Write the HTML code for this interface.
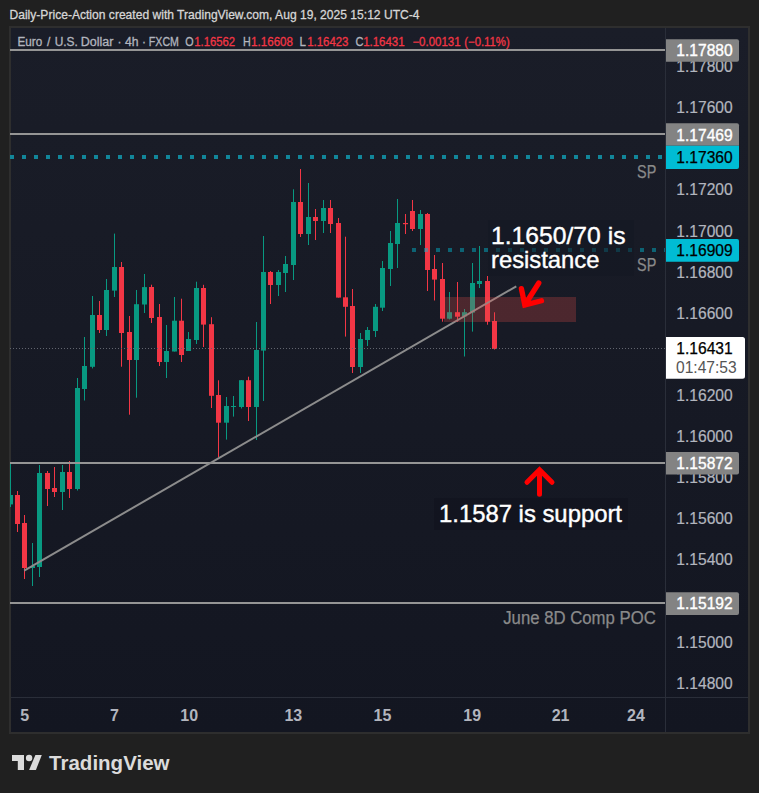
<!DOCTYPE html>
<html><head><meta charset="utf-8"><style>
html,body{margin:0;padding:0;background:#202020;width:759px;height:793px;overflow:hidden}
svg{position:absolute;left:0;top:0}
text{font-family:"Liberation Sans",sans-serif}
</style></head><body>
<svg width="759" height="793" viewBox="0 0 759 793">
<defs><linearGradient id="bgg" gradientUnits="userSpaceOnUse" x1="0" y1="28" x2="0" y2="732"><stop offset="0" stop-color="#1a1d28"/><stop offset="1" stop-color="#131621"/></linearGradient><clipPath id="pane"><rect x="10" y="28" width="655" height="669"/></clipPath></defs>
<!-- header -->
<text x="9.5" y="19" font-size="12.5" fill="#d6d6d6" stroke="#d6d6d6" stroke-width="0.3" textLength="410" lengthAdjust="spacingAndGlyphs">Daily-Price-Action created with TradingView.com, Aug 19, 2025 15:12 UTC-4</text>
<!-- frame -->
<rect x="9" y="26" width="741" height="708" fill="#2e2e2e"/>
<rect x="11" y="28" width="737" height="704" fill="url(#bgg)"/>
<rect x="665" y="28" width="1" height="704" fill="#2a2e39"/>
<rect x="11" y="697" width="737" height="1" fill="#2a2e39"/>
<g clip-path="url(#pane)">
<rect x="10" y="463.0" width="1" height="44.0" fill="#089981"/>
<rect x="8" y="495.0" width="5" height="9.4" fill="#089981"/>
<rect x="17" y="491.0" width="1" height="41.0" fill="#f23645"/>
<rect x="15" y="495.0" width="5" height="29.0" fill="#f23645"/>
<rect x="24" y="515.0" width="1" height="64.0" fill="#f23645"/>
<rect x="22" y="523.0" width="5" height="45.0" fill="#f23645"/>
<rect x="32" y="543.0" width="1" height="43.0" fill="#089981"/>
<rect x="30" y="566.0" width="5" height="2.0" fill="#089981"/>
<rect x="39" y="465.0" width="1" height="112.0" fill="#089981"/>
<rect x="37" y="473.0" width="5" height="94.0" fill="#089981"/>
<rect x="47" y="471.0" width="1" height="35.0" fill="#f23645"/>
<rect x="45" y="473.0" width="5" height="16.0" fill="#f23645"/>
<rect x="54" y="467.0" width="1" height="30.0" fill="#f23645"/>
<rect x="52" y="488.0" width="5" height="4.0" fill="#f23645"/>
<rect x="62" y="465.0" width="1" height="45.0" fill="#089981"/>
<rect x="60" y="472.0" width="5" height="20.0" fill="#089981"/>
<rect x="69" y="461.0" width="1" height="37.0" fill="#f23645"/>
<rect x="67" y="472.0" width="5" height="17.0" fill="#f23645"/>
<rect x="77" y="378.0" width="1" height="112.5" fill="#089981"/>
<rect x="75" y="388.0" width="5" height="101.0" fill="#089981"/>
<rect x="84" y="337.0" width="1" height="63.5" fill="#089981"/>
<rect x="82" y="366.0" width="5" height="23.0" fill="#089981"/>
<rect x="92" y="296.0" width="1" height="72.4" fill="#089981"/>
<rect x="90" y="315.0" width="5" height="51.8" fill="#089981"/>
<rect x="99" y="301.0" width="1" height="32.0" fill="#f23645"/>
<rect x="97" y="315.0" width="5" height="15.0" fill="#f23645"/>
<rect x="106" y="279.0" width="1" height="57.0" fill="#089981"/>
<rect x="104" y="290.0" width="5" height="40.0" fill="#089981"/>
<rect x="114" y="233.6" width="1" height="63.4" fill="#089981"/>
<rect x="112" y="267.0" width="5" height="23.6" fill="#089981"/>
<rect x="121" y="262.0" width="1" height="104.7" fill="#f23645"/>
<rect x="119" y="267.0" width="5" height="66.0" fill="#f23645"/>
<rect x="129" y="316.0" width="1" height="98.7" fill="#f23645"/>
<rect x="127" y="332.0" width="5" height="28.0" fill="#f23645"/>
<rect x="136" y="290.0" width="1" height="107.7" fill="#089981"/>
<rect x="134" y="304.2" width="5" height="55.8" fill="#089981"/>
<rect x="144" y="274.0" width="1" height="39.0" fill="#089981"/>
<rect x="142" y="287.1" width="5" height="17.4" fill="#089981"/>
<rect x="151" y="284.7" width="1" height="38.3" fill="#f23645"/>
<rect x="149" y="287.0" width="5" height="31.0" fill="#f23645"/>
<rect x="159" y="304.0" width="1" height="62.0" fill="#f23645"/>
<rect x="157" y="317.0" width="5" height="45.0" fill="#f23645"/>
<rect x="166" y="325.0" width="1" height="53.0" fill="#089981"/>
<rect x="164" y="351.0" width="5" height="11.0" fill="#089981"/>
<rect x="174" y="297.0" width="1" height="54.5" fill="#089981"/>
<rect x="172" y="320.7" width="5" height="30.8" fill="#089981"/>
<rect x="181" y="298.7" width="1" height="63.3" fill="#f23645"/>
<rect x="179" y="320.7" width="5" height="34.3" fill="#f23645"/>
<rect x="188" y="332.0" width="1" height="19.0" fill="#089981"/>
<rect x="186" y="339.0" width="5" height="12.0" fill="#089981"/>
<rect x="196" y="281.7" width="1" height="62.3" fill="#089981"/>
<rect x="194" y="288.0" width="5" height="52.0" fill="#089981"/>
<rect x="203" y="284.8" width="1" height="62.2" fill="#f23645"/>
<rect x="201" y="288.0" width="5" height="36.6" fill="#f23645"/>
<rect x="211" y="317.2" width="1" height="90.8" fill="#f23645"/>
<rect x="209" y="324.2" width="5" height="71.6" fill="#f23645"/>
<rect x="218" y="380.3" width="1" height="77.1" fill="#f23645"/>
<rect x="216" y="395.0" width="5" height="27.7" fill="#f23645"/>
<rect x="226" y="397.0" width="1" height="42.6" fill="#089981"/>
<rect x="224" y="406.0" width="5" height="16.7" fill="#089981"/>
<rect x="233" y="396.0" width="1" height="20.6" fill="#089981"/>
<rect x="231" y="406.0" width="5" height="1.0" fill="#089981"/>
<rect x="241" y="380.0" width="1" height="28.5" fill="#089981"/>
<rect x="239" y="380.2" width="5" height="26.8" fill="#089981"/>
<rect x="248" y="376.7" width="1" height="44.3" fill="#f23645"/>
<rect x="246" y="380.2" width="5" height="26.8" fill="#f23645"/>
<rect x="256" y="322.0" width="1" height="118.0" fill="#089981"/>
<rect x="254" y="350.0" width="5" height="57.0" fill="#089981"/>
<rect x="263" y="236.0" width="1" height="165.0" fill="#089981"/>
<rect x="261" y="272.0" width="5" height="78.6" fill="#089981"/>
<rect x="270" y="271.0" width="1" height="33.0" fill="#f23645"/>
<rect x="268" y="272.0" width="5" height="13.0" fill="#f23645"/>
<rect x="278" y="270.0" width="1" height="26.0" fill="#089981"/>
<rect x="276" y="272.0" width="5" height="13.0" fill="#089981"/>
<rect x="285" y="256.0" width="1" height="36.0" fill="#089981"/>
<rect x="283" y="264.0" width="5" height="9.0" fill="#089981"/>
<rect x="293" y="189.3" width="1" height="90.7" fill="#089981"/>
<rect x="291" y="202.0" width="5" height="63.0" fill="#089981"/>
<rect x="300" y="169.0" width="1" height="68.0" fill="#f23645"/>
<rect x="298" y="202.0" width="5" height="32.0" fill="#f23645"/>
<rect x="308" y="183.0" width="1" height="62.0" fill="#089981"/>
<rect x="306" y="217.0" width="5" height="17.0" fill="#089981"/>
<rect x="315" y="209.0" width="1" height="31.0" fill="#f23645"/>
<rect x="313" y="217.0" width="5" height="4.0" fill="#f23645"/>
<rect x="323" y="200.0" width="1" height="33.0" fill="#089981"/>
<rect x="321" y="208.0" width="5" height="13.0" fill="#089981"/>
<rect x="330" y="200.0" width="1" height="33.0" fill="#f23645"/>
<rect x="328" y="208.0" width="5" height="16.0" fill="#f23645"/>
<rect x="338" y="218.0" width="1" height="79.6" fill="#f23645"/>
<rect x="336" y="223.0" width="5" height="74.6" fill="#f23645"/>
<rect x="345" y="236.7" width="1" height="99.9" fill="#f23645"/>
<rect x="343" y="297.3" width="5" height="9.5" fill="#f23645"/>
<rect x="352" y="289.0" width="1" height="84.0" fill="#f23645"/>
<rect x="350" y="306.0" width="5" height="61.0" fill="#f23645"/>
<rect x="360" y="333.0" width="1" height="40.0" fill="#089981"/>
<rect x="358" y="339.0" width="5" height="28.0" fill="#089981"/>
<rect x="367" y="327.0" width="1" height="19.0" fill="#089981"/>
<rect x="365" y="330.0" width="5" height="10.0" fill="#089981"/>
<rect x="375" y="304.0" width="1" height="33.0" fill="#089981"/>
<rect x="373" y="306.8" width="5" height="24.2" fill="#089981"/>
<rect x="382" y="261.0" width="1" height="50.0" fill="#089981"/>
<rect x="380" y="268.0" width="5" height="39.7" fill="#089981"/>
<rect x="390" y="231.0" width="1" height="55.0" fill="#089981"/>
<rect x="388" y="243.0" width="5" height="26.0" fill="#089981"/>
<rect x="397" y="199.0" width="1" height="69.0" fill="#089981"/>
<rect x="395" y="223.0" width="5" height="21.0" fill="#089981"/>
<rect x="405" y="214.0" width="1" height="20.0" fill="#f23645"/>
<rect x="403" y="223.0" width="5" height="1.2" fill="#f23645"/>
<rect x="412" y="200.0" width="1" height="31.0" fill="#f23645"/>
<rect x="410" y="211.0" width="5" height="18.0" fill="#f23645"/>
<rect x="420" y="210.0" width="1" height="35.0" fill="#089981"/>
<rect x="418" y="214.0" width="5" height="15.0" fill="#089981"/>
<rect x="427" y="213.0" width="1" height="78.0" fill="#f23645"/>
<rect x="425" y="214.0" width="5" height="56.0" fill="#f23645"/>
<rect x="434" y="255.0" width="1" height="45.5" fill="#f23645"/>
<rect x="432" y="269.0" width="5" height="10.6" fill="#f23645"/>
<rect x="442" y="263.0" width="1" height="58.7" fill="#f23645"/>
<rect x="440" y="279.0" width="5" height="39.7" fill="#f23645"/>
<rect x="449" y="292.0" width="1" height="27.4" fill="#089981"/>
<rect x="447" y="312.2" width="5" height="6.5" fill="#089981"/>
<rect x="457" y="282.0" width="1" height="39.7" fill="#f23645"/>
<rect x="455" y="312.2" width="5" height="4.5" fill="#f23645"/>
<rect x="464" y="309.0" width="1" height="47.5" fill="#089981"/>
<rect x="462" y="312.2" width="5" height="4.2" fill="#089981"/>
<rect x="472" y="263.0" width="1" height="68.6" fill="#089981"/>
<rect x="470" y="283.0" width="5" height="29.6" fill="#089981"/>
<rect x="479" y="246.0" width="1" height="42.0" fill="#089981"/>
<rect x="477" y="281.0" width="5" height="3.0" fill="#089981"/>
<rect x="487" y="276.0" width="1" height="48.7" fill="#f23645"/>
<rect x="485" y="281.0" width="5" height="40.7" fill="#f23645"/>
<rect x="494" y="312.3" width="1" height="37.2" fill="#f23645"/>
<rect x="492" y="321.0" width="5" height="28.0" fill="#f23645"/>
<!-- horizontal lines -->
<rect x="10" y="49" width="655" height="2" fill="#959595"/>
<rect x="10" y="133" width="655" height="2" fill="#959595"/>
<rect x="10" y="462" width="655" height="2" fill="#959595"/>
<rect x="10" y="602" width="655" height="2" fill="#959595"/>
<line x1="10" y1="157" x2="665" y2="157" stroke="#12869a" stroke-width="4" stroke-dasharray="4 8"/>
<line x1="412" y1="250" x2="665" y2="250" stroke="#00bcd4" stroke-opacity="0.45" stroke-width="4" stroke-dasharray="4 8"/>
<line x1="10" y1="348.5" x2="665" y2="348.5" stroke="#62656f" stroke-width="1" stroke-dasharray="1 2"/>
<!-- trendline -->
<line x1="24.2" y1="570.6" x2="516.3" y2="286.3" stroke="#8c8c8c" stroke-width="2"/>
<!-- zone rect -->
<rect x="444" y="297" width="132" height="25" fill="#ec504b" fill-opacity="0.25"/>
<!-- arrows -->
<path d="M527,482.3 L539.5,469.8 L552,482.3 M539.5,469.8 L539.5,494.3" fill="none" stroke="#ff0000" stroke-width="5" stroke-linecap="round" stroke-linejoin="miter"/>
<path d="M538.8,283 L524.8,305 M521.4,288.6 L524.8,305 L541.5,300.8" fill="none" stroke="#ff0000" stroke-width="5.3" stroke-linecap="round" stroke-linejoin="miter"/>
<!-- texts -->
<rect x="488" y="220" width="146" height="56" fill="#141722" fill-opacity="0.55"/>
<rect x="434" y="498" width="194" height="32" fill="#10131d" fill-opacity="0.55"/>
<text x="491" y="243.8" font-size="24" fill="#ffffff" stroke="#ffffff" stroke-width="0.4" textLength="134.5" lengthAdjust="spacingAndGlyphs">1.1650/70 is</text>
<text x="491" y="267.6" font-size="24" fill="#ffffff" stroke="#ffffff" stroke-width="0.4" textLength="108.5" lengthAdjust="spacingAndGlyphs">resistance</text>
<text x="439" y="521.8" font-size="24" fill="#ffffff" stroke="#ffffff" stroke-width="0.4" textLength="183" lengthAdjust="spacingAndGlyphs">1.1587 is support</text>
<text x="637.05" y="177.8" font-size="17.5" fill="#8a8a8a" stroke="#8a8a8a" stroke-width="0.25" textLength="19.21" lengthAdjust="spacingAndGlyphs">SP</text>
<text x="637.05" y="270.9" font-size="17.5" fill="#8a8a8a" stroke="#8a8a8a" stroke-width="0.25" textLength="19.21" lengthAdjust="spacingAndGlyphs">SP</text>
<text x="503.24" y="623.8" font-size="17.5" fill="#8a8a8a" stroke="#8a8a8a" stroke-width="0.25" textLength="152.5" lengthAdjust="spacingAndGlyphs">June 8D Comp POC</text>
</g>
<!-- legend -->
<g font-size="12" fill="#b2b5be" stroke="#b2b5be" stroke-width="0.3">
<text x="17.54" y="46" textLength="24.75" lengthAdjust="spacingAndGlyphs">Euro</text>
<text x="46.98" y="46">/</text>
<text x="54.68" y="46" textLength="23.21" lengthAdjust="spacingAndGlyphs">U.S.</text>
<text x="80.78" y="46" textLength="32.63" lengthAdjust="spacingAndGlyphs">Dollar</text>
<text x="117.50" y="46">·</text>
<text x="124.92" y="46" textLength="13.57" lengthAdjust="spacingAndGlyphs">4h</text>
<text x="142.00" y="46">·</text>
<text x="148.83" y="46" textLength="30.04" lengthAdjust="spacingAndGlyphs">FXCM</text>
<text x="185.19" y="46" textLength="8.32" lengthAdjust="spacingAndGlyphs">O</text>
<text x="194.24" y="46" textLength="40.83" lengthAdjust="spacingAndGlyphs" fill="#f23645" stroke="#f23645">1.16562</text>
<text x="243.02" y="46" textLength="7.76" lengthAdjust="spacingAndGlyphs">H</text>
<text x="251.12" y="46" textLength="41.89" lengthAdjust="spacingAndGlyphs" fill="#f23645" stroke="#f23645">1.16608</text>
<text x="299.45" y="46" textLength="6.43" lengthAdjust="spacingAndGlyphs">L</text>
<text x="307.13" y="46" textLength="41.37" lengthAdjust="spacingAndGlyphs" fill="#f23645" stroke="#f23645">1.16423</text>
<text x="355.44" y="46" textLength="7.98" lengthAdjust="spacingAndGlyphs">C</text>
<text x="363.13" y="46" textLength="41.43" lengthAdjust="spacingAndGlyphs" fill="#f23645" stroke="#f23645">1.16431</text>
<text x="412.43" y="46" textLength="48.12" lengthAdjust="spacingAndGlyphs" fill="#f23645" stroke="#f23645">−0.00131</text>
<text x="464.31" y="46" textLength="45.38" lengthAdjust="spacingAndGlyphs" fill="#f23645" stroke="#f23645">(−0.11%)</text>
</g>
<!-- price axis labels -->
<g font-size="15.6" fill="#b2b5be" stroke="#b2b5be" stroke-width="0.2">
<text x="676.3" y="72.0">1.17800</text>
<text x="676.3" y="113.1">1.17600</text>
<text x="676.3" y="195.3">1.17200</text>
<text x="676.3" y="236.5">1.17000</text>
<text x="676.3" y="277.6">1.16800</text>
<text x="676.3" y="318.7">1.16600</text>
<text x="676.3" y="400.9">1.16200</text>
<text x="676.3" y="442.1">1.16000</text>
<text x="676.3" y="483.2">1.15800</text>
<text x="676.3" y="524.3">1.15600</text>
<text x="676.3" y="565.4">1.15400</text>
<text x="676.3" y="647.7">1.15000</text>
<text x="676.3" y="688.8">1.14800</text>
</g>
<!-- label boxes -->
<path d="M666,39.2 H737 a2,2 0 0 1 2,2 V59.8 a2,2 0 0 1 -2,2 H666 Z" fill="#838383"/>
<path d="M666,123.2 H737 a2,2 0 0 1 2,2 V145.7 H666 Z" fill="#838383"/>
<path d="M666,145.7 H739 V166.9 a2,2 0 0 1 -2,2 H666 Z" fill="#00bcd4"/>
<path d="M666,239.1 H737 a2,2 0 0 1 2,2 V259.7 a2,2 0 0 1 -2,2 H666 Z" fill="#00bcd4"/>
<path d="M666,337 H742.5 a2.5,2.5 0 0 1 2.5,2.5 V376.3 a2.5,2.5 0 0 1 -2.5,2.5 H666 Z" fill="#ffffff"/>
<path d="M666,452 H737 a2,2 0 0 1 2,2 V472.5 a2,2 0 0 1 -2,2 H666 Z" fill="#838383"/>
<path d="M666,592.3 H737 a2,2 0 0 1 2,2 V612.9 a2,2 0 0 1 -2,2 H666 Z" fill="#838383"/>
<g font-size="15.6">
<text x="676.3" y="56" fill="#ffffff" stroke="#ffffff" stroke-width="0.35">1.17880</text>
<text x="676.3" y="140.5" fill="#ffffff" stroke="#ffffff" stroke-width="0.35">1.17469</text>
<text x="676.3" y="163" fill="#000000" stroke="#000000" stroke-width="0.25">1.17360</text>
<text x="676.3" y="256" fill="#000000" stroke="#000000" stroke-width="0.25">1.16909</text>
<text x="676.3" y="354" fill="#000000" stroke="#000000" stroke-width="0.25">1.16431</text>
<text x="676" y="373" fill="#555555">01:47:53</text>
<text x="676.3" y="469.2" fill="#ffffff" stroke="#ffffff" stroke-width="0.35">1.15872</text>
<text x="676.3" y="609.2" fill="#ffffff" stroke="#ffffff" stroke-width="0.35">1.15192</text>
</g>
<!-- time axis -->
<g font-size="16" font-weight="bold" fill="#b2b5be" text-anchor="middle">
<text x="24.8" y="721">5</text>
<text x="114.4" y="721">7</text>
<text x="189.2" y="721">10</text>
<text x="293.3" y="721">13</text>
<text x="382.5" y="721">15</text>
<text x="472.2" y="721">19</text>
<text x="560.6" y="721">21</text>
<text x="635.9" y="721">24</text>
</g>
<!-- logo -->
<g fill="#dbdbdb">
<path d="M12,755 H24 V770 H17.8 V761 H12 Z"/>
<circle cx="29.1" cy="758" r="3.2"/>
<path d="M35.4,755 H41.8 L35.9,770 H29.1 Z"/>
<text x="49.07" y="770.3" font-size="20.6" font-weight="bold" textLength="120.49" lengthAdjust="spacingAndGlyphs">TradingView</text>
</g>
</svg>
</body></html>
